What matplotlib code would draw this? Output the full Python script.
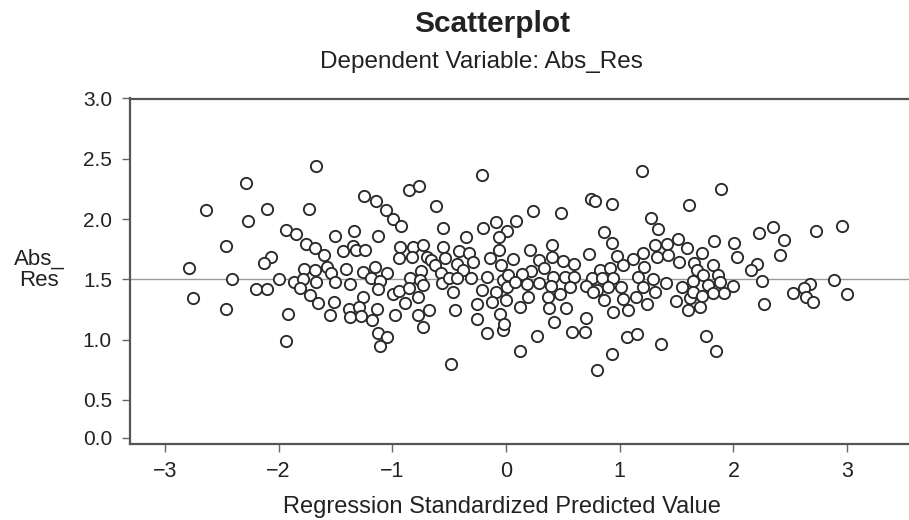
import numpy as np
import matplotlib
matplotlib.use("Agg")
import matplotlib.pyplot as plt

# Regression standardized predicted value (x) and Abs_Res (y)
pred = [
    -2.287, -2.639, -2.102, -1.733, -2.272, -1.935, -1.847, -1.759, -1.680, -2.465,
    -2.069, -2.128, -2.791, -1.774, -1.680, -2.407, -1.994, -1.865, -1.785, -1.671,
    -2.199, -2.105, -1.809, -1.724, -1.656, -2.750, -2.463, -1.915, -1.935,
    -1.671, -0.208, -0.853, -0.763, -1.246, -1.143, -0.618, -1.055, -0.996, -0.926,
    -0.557, -0.200, -0.088, 0.006, -1.504, -1.334, -1.128, -0.354, -0.064, -1.598,
    -1.436, -1.343, -1.322, -1.237, -0.932, -0.821, -0.727, -0.551, -0.411, -0.325,
    -0.141, -0.059, -0.938, -0.824, -0.692, -0.657, -0.536, -0.434, -0.288, -0.044,
    -1.577, -1.542, -1.410, -1.255, -1.152, -1.049, -0.748, -0.624, -0.574, -0.381,
    -1.504, -1.372, -1.187, -1.108, -0.844, -0.756, -0.560, -0.499, -0.434, -0.310,
    -0.170, -0.024, -1.510, -1.260, -1.123, -0.996, -0.938, -0.850, -0.733, -0.771,
    -0.464, -0.214, -0.088, 0.006, 0.000, -0.258, -0.126, -1.548, -1.378, -1.290,
    -1.372, -1.278, -1.181, -1.137, -0.976, -0.888, -0.771, -0.675, -0.449, -0.258,
    -0.053, -0.024, -0.164, -0.727, -1.128, -1.044, -1.108, -0.486,
    1.193, 0.745, 0.780, 0.930, 1.610, 0.240, 0.481, 0.085, 1.273, 1.334,
    0.865, 0.930, 1.515, 0.407, 0.211, 1.310, 1.413, 1.589, 0.730, 0.974,
    1.208, 0.064, 0.290, 0.402, 0.499, 0.598, 1.114, 1.325, 1.427, 1.522,
    1.026, 1.214, 1.653, 0.337, 0.217, 0.138, 0.020, 0.827, 0.915, 1.677,
    0.079, 0.182, 0.293, 0.416, 0.519, 0.598, 0.754, 0.842, 0.938, 1.158,
    1.296, 1.405, 1.642, 0.393, 0.563, 0.704, 0.798, 0.900, 1.011, 1.208,
    1.545, 0.196, 0.367, 0.475, 0.768, 0.862, 1.026, 1.141, 1.310, 1.495,
    1.618, 0.123, 0.381, 0.528, 0.944, 1.070, 1.237, 1.598, 0.425, 0.704,
    -0.018, 0.578, 0.695, 0.275, 1.062, 1.155, 1.361, 0.123, 0.930, 0.803,
    1.891, 2.228, 2.351, 2.724, 2.955, 2.445, 1.829, 2.008, 2.029, 2.410,
    1.721, 1.823, 2.205, 2.152, 1.735, 1.867, 2.254, 2.674, 2.887, 1.779,
    1.882, 1.994, 1.920, 1.818, 1.647, 1.721, 2.527, 2.621, 2.636, 2.697,
    2.996, 2.272, 1.706, 1.756, 1.844,
]
abs_res = [
    2.300, 2.078, 2.083, 2.083, 1.981, 1.911, 1.875, 1.794, 1.763, 1.778,
    1.683, 1.633, 1.594, 1.588, 1.578, 1.503, 1.503, 1.480, 1.503, 1.475,
    1.422, 1.422, 1.430, 1.367, 1.300, 1.342, 1.250, 1.208, 0.986,
    2.444, 2.363, 2.244, 2.272, 2.194, 2.153, 2.111, 2.078, 2.003, 1.944,
    1.925, 1.925, 1.972, 1.903, 1.861, 1.903, 1.855, 1.850, 1.850, 1.703,
    1.736, 1.780, 1.744, 1.744, 1.767, 1.772, 1.786, 1.767, 1.738, 1.717,
    1.675, 1.744, 1.675, 1.683, 1.688, 1.661, 1.675, 1.628, 1.642, 1.619,
    1.600, 1.555, 1.583, 1.563, 1.600, 1.555, 1.572, 1.619, 1.555, 1.578,
    1.480, 1.458, 1.508, 1.488, 1.508, 1.494, 1.472, 1.508, 1.508, 1.508,
    1.517, 1.494, 1.308, 1.355, 1.417, 1.378, 1.405, 1.425, 1.453, 1.350,
    1.397, 1.411, 1.397, 1.438, 1.328, 1.294, 1.308, 1.203, 1.250, 1.272,
    1.183, 1.197, 1.161, 1.250, 1.203, 1.300, 1.203, 1.244, 1.244, 1.167,
    1.208, 1.078, 1.055, 1.100, 1.055, 1.022, 0.944, 0.800,
    2.397, 2.167, 2.153, 2.128, 2.113, 2.063, 2.050, 1.980, 2.008, 1.917,
    1.892, 1.805, 1.833, 1.786, 1.744, 1.786, 1.794, 1.758, 1.708, 1.694,
    1.717, 1.667, 1.661, 1.683, 1.653, 1.625, 1.667, 1.683, 1.703, 1.642,
    1.619, 1.600, 1.638, 1.592, 1.572, 1.544, 1.536, 1.578, 1.592, 1.578,
    1.480, 1.461, 1.472, 1.522, 1.522, 1.522, 1.508, 1.508, 1.508, 1.517,
    1.500, 1.467, 1.488, 1.444, 1.438, 1.444, 1.411, 1.433, 1.438, 1.433,
    1.438, 1.355, 1.355, 1.378, 1.392, 1.328, 1.336, 1.355, 1.392, 1.322,
    1.342, 1.267, 1.258, 1.263, 1.230, 1.244, 1.294, 1.244, 1.142, 1.180,
    1.133, 1.063, 1.063, 1.030, 1.022, 1.050, 0.961, 0.903, 0.878, 0.744,
    2.250, 1.883, 1.933, 1.903, 1.938, 1.828, 1.819, 1.800, 1.688, 1.703,
    1.722, 1.619, 1.625, 1.578, 1.536, 1.536, 1.486, 1.461, 1.494, 1.453,
    1.480, 1.444, 1.383, 1.388, 1.397, 1.361, 1.388, 1.425, 1.355, 1.308,
    1.375, 1.294, 1.267, 1.030, 0.903,
]
ref_value = 1.5
x_ticks = [-3, -2, -1, 0, 1, 2, 3]
y_ticks = [0.0, 0.5, 1.0, 1.5, 2.0, 2.5, 3.0]

plt.rcParams['font.family'] = ['Liberation Sans', 'DejaVu Sans']

fig = plt.figure(figsize=(9.09, 5.2), dpi=100)
ax = fig.add_axes([130 / 909, 1 - 444 / 520, 1 - 130 / 909, (444 - 98.5) / 520])

# y axis in the reference is compressed between 0.0 and 0.5
k = 38.0 / 60.0
def fwd(y):
    y = np.asarray(y, dtype=float)
    return np.where(y >= 0.5, y, 0.5 - (0.5 - y) * k)
def inv(t):
    t = np.asarray(t, dtype=float)
    return np.where(t >= 0.5, t, 0.5 - (0.5 - t) / k)
ax.set_yscale('function', functions=(fwd, inv))

ax.axhline(ref_value, color='#9a9a9a', lw=1.0, zorder=1)
ax.scatter(pred, abs_res, s=66, facecolors='white', edgecolors='#2a2a2a',
           linewidths=1.35, zorder=3)

ax.set_xlim(-3.307, 3.544)
ax.set_ylim(-0.079, 3.0)
ax.set_xticks(x_ticks)
ax.set_xticklabels([f"\u2212{abs(v)}" if v < 0 else str(v) for v in x_ticks])
ax.set_yticks(y_ticks)
ax.set_yticklabels([f"{v:.1f}" for v in y_ticks])
ax.tick_params(axis='y', labelsize=15, length=6, width=1.0, color='#666666', pad=7,
               labelcolor='#222222')
ax.tick_params(axis='x', labelsize=15.5, length=6, width=1.0, color='#666666', pad=6,
               labelcolor='#222222')
for side in ('left', 'bottom', 'top'):
    ax.spines[side].set_color('#555555')
    ax.spines[side].set_linewidth(1.6)
ax.spines['right'].set_visible(False)
ax.set_xlabel('Regression Standardized Predicted Value', fontsize=17,
              color='#222222')
ax.xaxis.set_label_coords((501.5 - 130) / 779, -(513 - 444) / 345.5)
ax.xaxis.label.set_va('baseline')

fig.text(492 / 909, 1 - 32 / 520, 'Scatterplot', ha='center', va='baseline',
         fontsize=21.5, fontweight='bold', color='#222222')
fig.text(481 / 909, 1 - 68 / 520, 'Dependent Variable: Abs_Res', ha='center',
         va='baseline', fontsize=17.5, color='#222222')
fig.text(39 / 909, 1 - 270 / 520, 'Abs_\nRes', ha='center', va='center',
         fontsize=16, color='#222222', linespacing=1.0)

fig.savefig('out.png', dpi=100)
